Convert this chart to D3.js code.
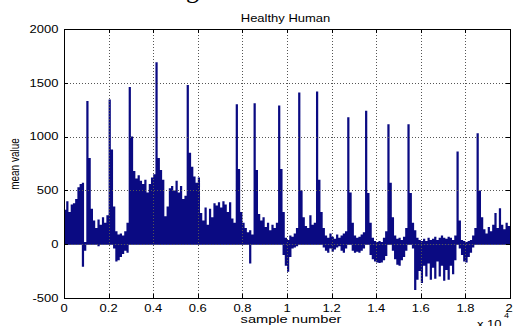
<!DOCTYPE html>
<html>
<head>
<meta charset="utf-8">
<script src="https://cdn.jsdelivr.net/npm/d3@7/dist/d3.min.js"></script>
<style>
  body { margin: 0; background: #fff; }
  text { font-family: "Liberation Sans", Arial, sans-serif; fill: #000; }
</style>
</head>
<body>
<svg id="chart" width="515" height="326"></svg>
<script>
// samples per bar (each bar = max / min of 100 samples)
const binSize = 100;

// positive envelope, one value per bin (0 .. 20000 samples)
const upper = [
  320, 400, 300, 370, 380, 420, 530, 560, 570, 20,
  1330, 800, 330, 220, 150, 230, 180, 250, 200, 270,
  1345, 880, 350, 120, 90, 100, 80, 120, 200, 1460,
  1000, 680, 610, 640, 590, 560, 600, 480, 560, 620,
  650, 1690, 800, 690, 600, 260, 350, 520, 540, 500,
  590, 480, 540, 420, 450, 1480, 850, 720, 630, 570,
  620, 290, 220, 340, 180, 330, 250, 380, 360, 390,
  340, 400, 370, 300, 390, 240, 200, 1300, 700, 300,
  200, 150, 110, 130, 90, 1310, 690, 280, 220, 250,
  160, 200, 130, 180, 150, 200, 1290, 700, 300, 60,
  40, 80, 70, 100, 150, 1410, 500, 250, 170, 150,
  270, 180, 200, 1420, 600, 300, 150, 80, 60, 100,
  70, 50, 90, 60, 80, 100, 120, 1180, 480, 200,
  80, 60, 70, 90, 110, 1240, 475, 200, 60, 30,
  20, 30, 20, 60, 120, 1115, 570, 250, 80, 50,
  60, 40, 70, 150, 1115, 475, 200, 130, 60, 40,
  30, 50, 30, 60, 40, 50, 70, 40, 60, 80,
  60, 50, 70, 60, 40, 80, 862, 220, 40, 30,
  20, 30, 40, 80, 150, 1030, 500, 250, 140, 100,
  160, 120, 180, 290, 150, 335, 180, 140, 200, 170
];

// negative envelope, one value per bin
const lower = [
  0, 0, 0, 0, 0, 0, 0, 0, -210, -60,
  0, 0, 0, 0, 0, -20, 0, 0, 0, 0,
  0, 0, -40, -160, -150, -120, -90, -60, -80, 0,
  0, 0, 0, 0, 0, 0, 0, 0, 0, 0,
  0, 0, 0, 0, 0, 0, 0, 0, 0, 0,
  0, 0, 0, 0, 0, 0, 0, 0, 0, 0,
  0, 0, 0, 0, 0, 0, 0, 0, 0, 0,
  0, 0, 0, 0, 0, 0, 0, 0, 0, 0,
  0, 0, 0, -180, 0, 0, 0, 0, 0, 0,
  0, 0, 0, 0, 0, 0, 0, 0, -100, -200,
  -255, -120, -40, -30, -20, 0, 0, 0, 0, 0,
  0, 0, 0, 0, 0, 0, -30, -60, -80, -40,
  -70, -50, -30, -20, -60, -80, -40, 0, 0, -60,
  -80, -70, -80, -60, -40, 0, 0, -100, -140, -160,
  -170, -175, -170, -150, -110, 0, 0, -60, -140, -190,
  -200, -150, -120, -60, 0, 0, -40, -425, -330, -250,
  -360, -200, -300, -180, -330, -220, -320, -160, -300, -200,
  -340, -240, -330, -200, -280, -150, 0, -40, -100, -160,
  -170, -120, -80, -30, 0, 0, 0, 0, 0, 0,
  0, 0, 0, 0, 0, 0, 0, 0, 0, 0
];

const xTicks = [0, 2000, 4000, 6000, 8000, 10000, 12000, 14000, 16000, 18000, 20000];
const xTickLabels = ['0', '0.2', '0.4', '0.6', '0.8', '1', '1.2', '1.4', '1.6', '1.8', '2'];
const yTicks = [-500, 0, 500, 1000, 1500, 2000];

const barColor = '#0a0a82';
const stretch = 1.3; // the picture's text is wider than normal

const svg = d3.select('#chart');

const x = d3.scaleLinear().domain([0, 20000]).range([64, 510]);
const y = d3.scaleLinear().domain([-500, 2000]).range([298, 29]);

// bars, drawn as one stepped shape per sign so neighbouring bars leave no seams
const toSteps = arr => arr.map((v, i) => [i * binSize, v]).concat([[arr.length * binSize, arr[arr.length - 1]]]);
const stepArea = d3.area()
  .x(d => x(d[0]))
  .y0(y(0))
  .y1(d => y(d[1]))
  .curve(d3.curveStepAfter);

svg.append('path')
  .datum(toSteps(upper))
  .attr('d', stepArea)
  .attr('fill', barColor);

svg.append('path')
  .datum(toSteps(lower))
  .attr('d', stepArea)
  .attr('fill', barColor);

// zero baseline
svg.append('line')
  .attr('x1', x(0)).attr('x2', x(20000))
  .attr('y1', y(0)).attr('y2', y(0))
  .attr('stroke', barColor).attr('stroke-width', 1);

// dotted grid
const grid = svg.append('g')
  .attr('stroke', '#555')
  .attr('stroke-width', 1)
  .attr('stroke-dasharray', '1,2');
grid.selectAll('line.gx')
  .data(xTicks.slice(1, -1))
  .join('line')
  .attr('x1', d => Math.round(x(d)) + 0.5).attr('x2', d => Math.round(x(d)) + 0.5)
  .attr('y1', y(2000)).attr('y2', y(-500));
grid.selectAll('line.gy')
  .data(yTicks.slice(1, -1))
  .join('line')
  .attr('y1', d => Math.round(y(d)) + 0.5).attr('y2', d => Math.round(y(d)) + 0.5)
  .attr('x1', x(0)).attr('x2', x(20000));

// frame and inward ticks
svg.append('rect')
  .attr('x', x(0) + 0.5).attr('y', y(2000) + 0.5)
  .attr('width', x(20000) - x(0)).attr('height', y(-500) - y(2000))
  .attr('fill', 'none').attr('stroke', '#000');

const tickLen = 4;
const ticks = svg.append('g').attr('stroke', '#000');
xTicks.forEach(d => {
  const px = Math.round(x(d)) + 0.5;
  ticks.append('line').attr('x1', px).attr('x2', px).attr('y1', y(-500)).attr('y2', y(-500) - tickLen);
  ticks.append('line').attr('x1', px).attr('x2', px).attr('y1', y(2000)).attr('y2', y(2000) + tickLen);
});
yTicks.forEach(d => {
  const py = Math.round(y(d)) + 0.5;
  ticks.append('line').attr('y1', py).attr('y2', py).attr('x1', x(0)).attr('x2', x(0) + tickLen);
  ticks.append('line').attr('y1', py).attr('y2', py).attr('x1', x(20000)).attr('x2', x(20000) - tickLen);
});

// tick labels
svg.append('g').selectAll('text')
  .data(yTicks)
  .join('text')
  .attr('transform', d => 'translate(58.5,' + (y(d) + 3.8) + ') scale(' + stretch + ',1)')
  .attr('text-anchor', 'end')
  .style('font-size', '10px')
  .text(d => d);

svg.append('g').selectAll('text')
  .data(xTicks)
  .join('text')
  .attr('transform', d => 'translate(' + Math.min(x(d), 509) + ',311.5) scale(' + stretch + ',1)')
  .attr('text-anchor', 'middle')
  .style('font-size', '10px')
  .text((d, i) => xTickLabels[i]);

// title and axis labels
svg.append('text')
  .attr('transform', 'translate(285.5,21.5) scale(' + stretch + ',1)')
  .attr('text-anchor', 'middle')
  .style('font-size', '10px')
  .text('Healthy Human');

svg.append('text')
  .attr('transform', 'translate(291,323) scale(1.33,1)')
  .attr('text-anchor', 'middle')
  .style('font-size', '11px')
  .text('sample number');

svg.append('text')
  .attr('transform', 'translate(19,164) scale(' + stretch + ',1) rotate(-90)')
  .attr('text-anchor', 'middle')
  .style('font-size', '10px')
  .text('mean value');

// axis multiplier, partly below the bottom edge as in the picture
svg.append('text')
  .attr('transform', 'translate(477,328) scale(' + stretch + ',1)')
  .style('font-size', '10px')
  .text('x 10');
svg.append('text')
  .attr('transform', 'translate(504,318) scale(' + stretch + ',1)')
  .style('font-size', '7px')
  .text('4');

// cut-off caption letter above the axes
svg.append('text')
  .attr('x', 186).attr('y', -2)
  .style('font-family', '"Liberation Serif", serif')
  .style('font-size', '26px')
  .text('g');
</script>
</body>
</html>
